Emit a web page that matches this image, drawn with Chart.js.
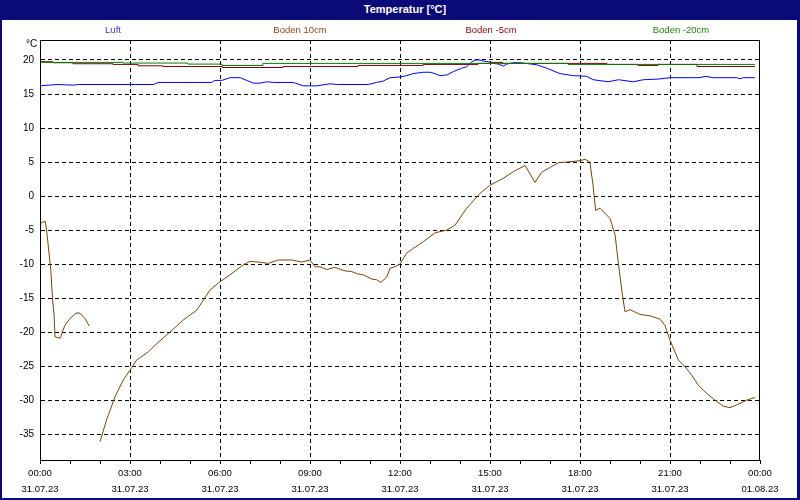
<!DOCTYPE html>
<html>
<head>
<meta charset="utf-8">
<script src="https://cdn.jsdelivr.net/npm/chart.js@4"></script>
<style>
  html, body { margin: 0; padding: 0; background: #fff; }
  #wrap { position: relative; width: 800px; height: 500px; overflow: hidden; font-family: "Liberation Sans", Arial, sans-serif; }
  #frame { position: absolute; left: 0; top: 0; width: 800px; height: 500px; box-sizing: border-box;
           border-left: 2px solid #0a0a78; border-right: 3px solid #0a0a78; border-bottom: 2px solid #0a0a78; pointer-events: none; }
  #titlebar { position: absolute; left: 0; top: 0; width: 800px; height: 20px; background: #0a0a78;
              color: #fff; font-weight: bold; font-size: 11px; line-height: 19px; }
  #titlebar span { position: absolute; left: 405px; transform: translateX(-50%); white-space: nowrap; }
  .leg { position: absolute; top: 24px; font-size: 9.5px; transform: translateX(-50%); white-space: nowrap; }
  #unit { position: absolute; left: 26px; top: 38px; font-size: 10px; color: #000; }
  canvas { position: absolute; left: 0; top: 0; }
</style>
</head>
<body>
<div id="wrap">
  <canvas id="c" width="800" height="500"></canvas>
  <div id="titlebar"><span>Temperatur [°C]</span></div>
  <div id="legend"></div>
  <div id="unit">°C</div>
  <div id="frame"></div>
</div>
<script>
// series (hours since 31.07.23 00:00 -> °C)
const luftHours = [0, 0.28, 0.61, 1.11, 1.28, 3.78, 3.94, 5.72, 5.83, 6.06, 6.33, 6.67, 6.89, 7.11, 7.33, 7.56, 7.78,
  8.44, 8.78, 9.22, 9.67, 9.89, 10.94, 11.22, 11.44, 11.67, 12.0, 12.22, 12.44, 12.78, 13.0, 13.17, 13.33, 13.56,
  13.78, 14.06, 14.22, 14.39, 14.5, 14.67, 14.83, 15.0, 15.11, 15.28, 15.44, 15.56, 15.78, 16.0, 16.56, 16.89,
  17.33, 17.78, 18.22, 18.44, 18.94, 19.28, 19.78, 20.11, 20.61, 21.0, 22.0, 22.17, 22.44, 23.22, 23.33, 23.44, 23.83]
const luftValues = [16.2, 16.3, 16.4, 16.3, 16.4, 16.4, 16.7, 16.7, 17.0, 17.0, 17.4, 17.4, 17.0, 16.6, 16.6, 16.8, 16.7,
  16.7, 16.2, 16.2, 16.5, 16.4, 16.4, 16.7, 16.9, 17.4, 17.5, 17.7, 18.0, 18.2, 18.2, 18.0, 17.7, 17.8,
  18.3, 18.8, 19.0, 19.7, 20.0, 20.0, 19.8, 19.7, 19.5, 19.4, 19.1, 19.4, 19.6, 19.6, 19.3, 18.8,
  18.0, 17.7, 17.6, 17.1, 16.8, 17.1, 16.8, 17.1, 17.2, 17.4, 17.4, 17.6, 17.4, 17.4, 17.25, 17.4, 17.4]

const boden10Hours = [0, 0.17, 0.22, 0.36, 0.42, 0.47, 0.5, 0.67, 0.83, 1.0, 1.2, 1.33, 1.5, 1.64, 1.8,
  2.0, 2.22, 2.5, 2.78, 3.0, 3.22, 3.61, 3.89, 4.33, 4.78, 5.22, 5.67, 6.0, 6.33, 6.78, 7.0, 7.28, 7.61, 7.94,
  8.39, 8.72, 9.0, 9.17, 9.33, 9.56, 9.83, 10.17, 10.39, 10.56, 10.78, 11.06, 11.22, 11.36, 11.56, 11.67, 11.83,
  12.0, 12.22, 12.44, 12.78, 13.17, 13.56, 13.83, 14.22, 14.67, 15.0, 15.44, 15.78, 16.17, 16.5, 16.72, 17.0,
  17.28, 17.56, 18.0, 18.17, 18.33, 18.44, 18.52, 18.67, 19.0, 19.17, 19.28, 19.39, 19.5, 19.67, 20.0, 20.33,
  20.67, 20.83, 21.0, 21.28, 21.5, 21.72, 21.94, 22.22, 22.5, 22.78, 23.0, 23.22, 23.56, 23.83]
const boden10Values = [-4.0, -3.7, -5.0, -10.9, -15.3, -17.5, -20.7, -20.9, -19.0, -18.0, -17.2, -17.2, -18.0, -19.1, null,
  -36.1, -32.9, -29.5, -27.0, -25.6, -24.1, -22.9, -21.7, -20.0, -18.2, -16.8, -13.8, -12.6, -11.6, -10.1, -9.6, -9.7, -9.9, -9.4,
  -9.4, -9.7, -9.4, -10.4, -10.4, -10.8, -10.5, -11.0, -11.1, -11.4, -11.6, -12.2, -12.3, -12.7, -11.9, -10.6, -10.4,
  -10.0, -8.4, -7.7, -6.7, -5.4, -5.0, -4.3, -1.8, 0.4, 1.6, 2.6, 3.6, 4.5, 2.0, 3.5, 4.2,
  4.9, 5.0, 5.2, 5.4, 5.0, 1.4, -2.1, -1.8, -3.3, -5.7, -9.9, -13.8, -17.0, -16.7, -17.4, -17.6,
  -18.1, -19.0, -21.2, -24.1, -25.1, -26.3, -27.8, -29.0, -30.0, -30.9, -31.1, -30.7, -30.0, -29.6]

const boden5Hours = [0, 0.43, 1.1, 2.43, 3.27, 4.1, 6.07, 8.1, 10.6, 12.77, 14.6, 15.0, 15.43, 18.9, 19.93, 20.6, 21.9, 22.77, 23.83]
const boden5Values = [19.85, 19.75, 19.6, 19.45, 19.35, 19.15, 19.05, 18.9, 19.05, 19.2, 19.35, 19.5, 19.65, 19.5, 19.35, 19.2, 19.35, 19.05, 19.05]

const boden20Hours = [0, 2.77, 4.93, 6.07, 7.43, 17.6, 19.93, 23.83]
const boden20Values = [19.85, 19.65, 19.55, 19.4, 19.2, 19.5, 19.35, 19.35]

// axis labels
const timeLabels = ['00:00', '03:00', '06:00', '09:00', '12:00', '15:00', '18:00', '21:00', '00:00']
const dateLabels = ['31.07.23', '31.07.23', '31.07.23', '31.07.23', '31.07.23', '31.07.23', '31.07.23', '31.07.23', '01.08.23']
const yTicks = [-35, -30, -25, -20, -15, -10, -5, 0, 5, 10, 15, 20]

const seriesNames = ['Luft', 'Boden 10cm', 'Boden -5cm', 'Boden -20cm']
const seriesColors = ['#0000ff', '#804000', '#800000', '#008000']
const legendText = ['#4a34c8', '#8a4a12', '#900000', '#208000']
const legendX = [113, 300, 491, 681]

const pts = (hs, vs) => hs.map((h, i) => ({ x: h, y: vs[i] }))

// html legend
const legendEl = document.getElementById('legend')
seriesNames.forEach((name, i) => {
    const s = document.createElement('span')
    s.className = 'leg'
    s.style.left = legendX[i] + 'px'
    s.style.color = legendText[i]
    s.textContent = name
    legendEl.appendChild(s)
})

const frameBox = {
    id: 'frameBox',
    afterDraw(chart) {
        const { ctx, chartArea: a } = chart
        ctx.save()
        ctx.strokeStyle = '#000'
        ctx.lineWidth = 1
        ctx.strokeRect(a.left + 0.5, a.top + 0.5, a.right - a.left - 1, a.bottom - a.top)
        ctx.restore()
    }
}

const line = (i, data, extra) => Object.assign({
    label: seriesNames[i],
    data: data,
    borderColor: seriesColors[i],
    borderWidth: 1,
    pointRadius: 0,
    tension: 0,
    fill: false,
    spanGaps: false
}, extra)

new Chart(document.getElementById('c'), {
    type: 'line',
    data: {
        datasets: [
            line(0, pts(luftHours, luftValues), { order: 3 }),
            line(1, pts(boden10Hours, boden10Values), { order: 2 }),
            line(2, pts(boden5Hours, boden5Values), { order: 1, stepped: 'after' }),
            line(3, pts(boden20Hours, boden20Values), { order: 0, stepped: 'after' })
        ]
    },
    options: {
        responsive: false,
        animation: false,
        layout: { padding: { left: 0, right: 40, top: 40, bottom: 0 } },
        plugins: { legend: { display: false }, tooltip: { enabled: false } },
        scales: {
            x: {
                type: 'linear',
                min: 0,
                max: 24,
                afterBuildTicks(scale) {
                    const t = []
                    for (let h = 0; h <= 24; h++) t.push({ value: h })
                    scale.ticks = t
                },
                afterFit(scale) { scale.height = 40 },
                ticks: {
                    autoSkip: false,
                    maxRotation: 0,
                    padding: 2,
                    color: '#000',
                    font: { family: '"Liberation Sans", Arial, sans-serif', size: 9.5, lineHeight: 1.62 },
                    callback: (v) => v % 3 === 0 ? [timeLabels[v / 3], dateLabels[v / 3]] : ''
                },
                grid: {
                    color: (c) => (c.tick && c.tick.value % 3 === 0 && c.tick.value > 0 && c.tick.value < 24) ? '#000' : 'rgba(0,0,0,0)',
                    tickColor: '#000',
                    tickLength: 4,
                    lineWidth: 1
                },
                border: { display: true, color: '#000', width: 1, dash: [4, 3] }
            },
            y: {
                min: -38.8,
                max: 22.94,
                afterBuildTicks(scale) { scale.ticks = yTicks.map(v => ({ value: v })) },
                afterFit(scale) { scale.width = 40 },
                ticks: {
                    padding: 6,
                    color: '#000',
                    font: { family: '"Liberation Sans", Arial, sans-serif', size: 10 }
                },
                grid: { color: '#000', drawTicks: false, lineWidth: 1 },
                border: { display: true, color: '#000', width: 1, dash: [4, 3] }
            }
        }
    },
    plugins: [frameBox]
})
</script>
</body>
</html>
